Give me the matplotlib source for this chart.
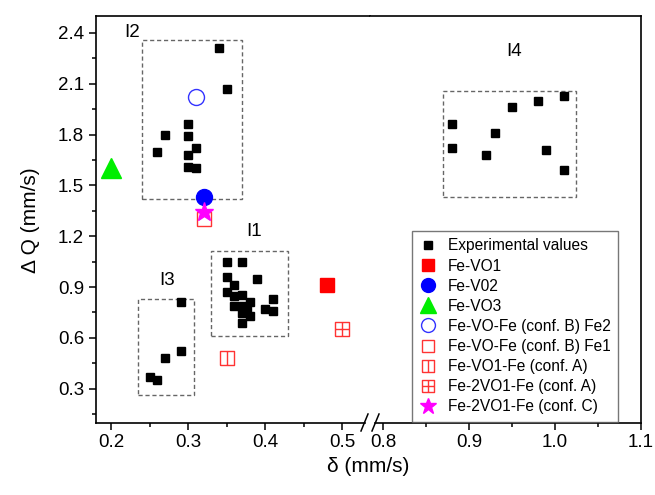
import numpy as np
import matplotlib.pyplot as plt
from matplotlib.path import Path
from matplotlib.patches import Rectangle
from matplotlib.lines import Line2D
from matplotlib.ticker import FormatStrFormatter

plt.rcParams['font.family'] = ['Liberation Sans', 'DejaVu Sans']

# experimental values (delta, quadrupole splitting)
exp_x = [0.34, 0.35, 0.30, 0.27, 0.30, 0.26, 0.31, 0.30, 0.30, 0.31,
         0.35, 0.37, 0.35, 0.39, 0.36, 0.35, 0.41, 0.36, 0.37, 0.38, 0.36,
         0.37, 0.376, 0.37, 0.38, 0.37, 0.40, 0.41,
         0.29, 0.29, 0.27, 0.25, 0.26,
         0.88, 0.88, 0.92, 0.93, 0.95, 0.98, 1.01, 0.99, 1.01]
exp_y = [2.31, 2.07, 1.86, 1.80, 1.79, 1.70, 1.72, 1.68, 1.61, 1.60,
         1.05, 1.05, 0.96, 0.95, 0.91, 0.87, 0.83, 0.845, 0.85, 0.81, 0.79,
         0.785, 0.77, 0.745, 0.73, 0.69, 0.77, 0.76,
         0.81, 0.52, 0.48, 0.37, 0.35,
         1.86, 1.72, 1.68, 1.81, 1.96, 2.00, 2.03, 1.71, 1.59]

fe_vo1 = (0.48, 0.91)
fe_v02 = (0.32, 1.43)
fe_vo3 = (0.20, 1.60)
fe_vo_fe_b2 = (0.31, 2.02)
fe_vo_fe_b1 = (0.32, 1.30)
fe_vo1_fe_a = (0.35, 0.48)
fe_2vo1_fe_a = (0.50, 0.65)
fe_2vo1_fe_c = (0.32, 1.34)

# cluster boxes: name, x0, x1, y0, y1, label x, label y, panel
boxes = [
    ("I1", 0.33, 0.43, 0.61, 1.115, 0.386, 1.23, 0),
    ("I2", 0.24, 0.37, 1.42, 2.36, 0.227, 2.40, 0),
    ("I3", 0.234, 0.308, 0.26, 0.83, 0.272, 0.94, 0),
    ("I4", 0.87, 1.025, 1.43, 2.056, 0.952, 2.29, 1),
]

y_ticks = [0.3, 0.6, 0.9, 1.2, 1.5, 1.8, 2.1, 2.4]
y_minor = [0.15, 0.45, 0.75, 1.05, 1.35, 1.65, 1.95, 2.25]

# custom open markers
M, L = Path.MOVETO, Path.LINETO
sq = [(-1, -1), (1, -1), (1, 1), (-1, 1), (-1, -1)]
half_sq = Path(sq + [(0, -1), (0, 1)], [M, L, L, L, L, M, L])
cross_sq = Path(sq + [(0, -1), (0, 1), (-1, 0), (1, 0)], [M, L, L, L, L, M, L, M, L])

styles = [
    ("Experimental values", dict(marker='s', color='black', ms=6), 5.5),
    ("Fe-VO1", dict(marker='s', color='#ff0000', ms=10), 8),
    ("Fe-V02", dict(marker='o', color='#0000ff', ms=11.5), 10),
    ("Fe-VO3", dict(marker='^', color='#00ee00', ms=14), 12),
    ("Fe-VO-Fe (conf. B) Fe2", dict(marker='o', mfc='none', mec='#3333ff', ms=11.5, mew=1), 10),
    ("Fe-VO-Fe (conf. B) Fe1", dict(marker='s', mfc='none', mec='#ff3333', ms=9.5, mew=1), 8),
    ("Fe-VO1-Fe (conf. A)", dict(marker=half_sq, mfc='none', mec='#ff3333', ms=10, mew=1), 8),
    ("Fe-2VO1-Fe (conf. A)", dict(marker=cross_sq, mfc='none', mec='#ff3333', ms=10, mew=1), 8),
    ("Fe-2VO1-Fe (conf. C)", dict(marker='*', color='#ff00ff', ms=14), 12),
]
points = [(exp_x, exp_y), ([fe_vo1[0]], [fe_vo1[1]]), ([fe_v02[0]], [fe_v02[1]]),
          ([fe_vo3[0]], [fe_vo3[1]]), ([fe_vo_fe_b2[0]], [fe_vo_fe_b2[1]]),
          ([fe_vo_fe_b1[0]], [fe_vo_fe_b1[1]]), ([fe_vo1_fe_a[0]], [fe_vo1_fe_a[1]]),
          ([fe_2vo1_fe_a[0]], [fe_2vo1_fe_a[1]]), ([fe_2vo1_fe_c[0]], [fe_2vo1_fe_c[1]])]

fig = plt.figure(figsize=(6.55, 4.95), dpi=100)
W, H = 655, 495
left, right, bottom, top, split = 96 / W, 641 / W, 1 - 422.5 / H, 1 - 16 / H, 370 / W
ax1 = fig.add_axes([left, bottom, split - left, top - bottom])
ax2 = fig.add_axes([split, bottom, right - split, top - bottom], sharey=ax1)
axes = [ax1, ax2]

ax1.set_xlim(0.18, 0.5365)
ax2.set_xlim(0.785, 1.1)
ax1.set_ylim(0.1, 2.5)

for ax in axes:
    for (lab, st, _), (xs, ys) in zip(styles, points):
        ax.plot(xs, ys, ls='none', **st)
    for s in ax.spines.values():
        s.set_linewidth(1.2)
    ax.tick_params(which='both', direction='out', labelsize=13.5, width=1.1)
    ax.tick_params(which='major', length=5)
    ax.tick_params(which='minor', length=3)
    ax.xaxis.set_major_formatter(FormatStrFormatter('%.1f'))

for name, x0, x1, y0, y1, lx, ly, k in boxes:
    axes[k].add_patch(Rectangle((x0, y0), x1 - x0, y1 - y0, fill=False,
                                ec='#666666', lw=1.0, ls=(0, (3, 2)), zorder=1))
    axes[k].text(lx, ly, name, fontsize=13.5, ha='center', va='center')

ax1.set_xticks([0.2, 0.3, 0.4, 0.5])
ax1.set_xticks([0.25, 0.35, 0.45], minor=True)
ax2.set_xticks([0.8, 0.9, 1.0, 1.1])
ax2.set_xticks([0.85, 0.95, 1.05], minor=True)
ax1.set_yticks(y_ticks)
ax1.set_yticks(y_minor, minor=True)
ax1.yaxis.set_major_formatter(FormatStrFormatter('%.1f'))
ax2.tick_params(axis='y', which='both', left=False, labelleft=False)

ax1.spines['right'].set_visible(False)
ax2.spines['left'].set_visible(False)
ax1.spines['bottom'].set_bounds(0.18, 0.530)
ax2.spines['bottom'].set_bounds(0.791, 1.1)

# axis break marks
for x0 in (361, 372):
    fig.add_artist(Line2D([x0 / W, (x0 + 7) / W], [1 - 431 / H, 1 - 414 / H],
                          color='black', lw=1.1))

handles = [Line2D([], [], ls='none', **{**st, 'ms': lms}) for _, st, lms in styles]
ax2.legend(handles, [s[0] for s in styles], loc='upper left',
           bbox_to_anchor=(0.155, 0.472), fontsize=11.2, frameon=True,
           fancybox=False, edgecolor='#555555', handlelength=1.0,
           handletextpad=0.8, labelspacing=0.33, borderpad=0.5,
           borderaxespad=0)

fig.text(368.5 / W, 1 - 466 / H, 'δ (mm/s)', ha='center', va='center', fontsize=15)
fig.text(30 / W, 1 - 220 / H, 'Δ Q (mm/s)', ha='center', va='center',
         rotation=90, fontsize=15)

fig.savefig('out.png', dpi=100)
